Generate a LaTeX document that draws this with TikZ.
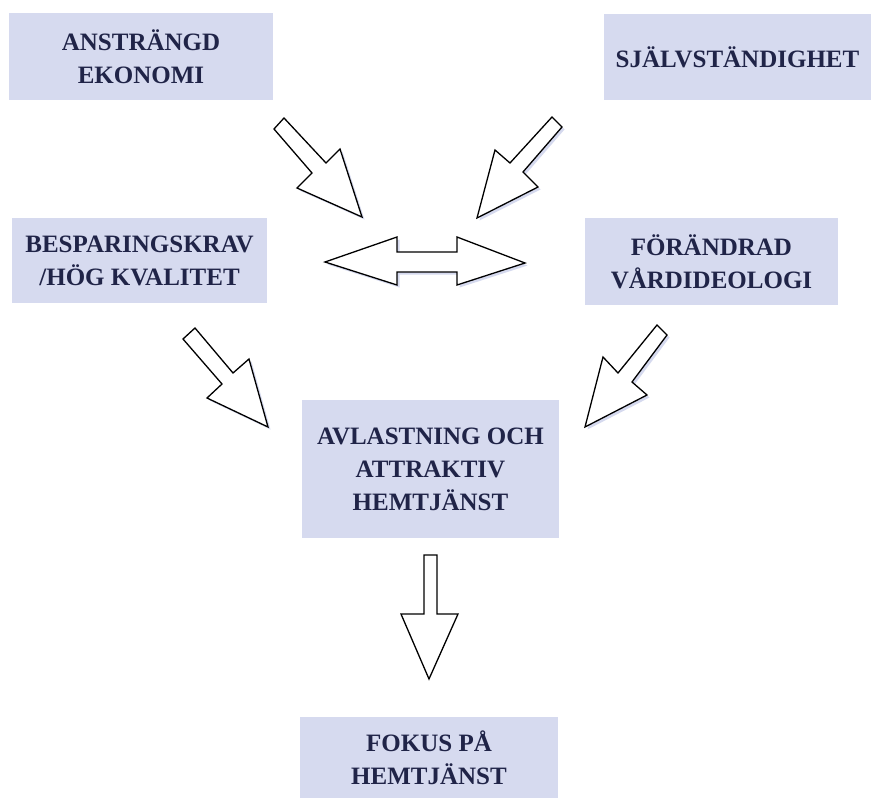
\documentclass[tikz,border=0pt]{standalone}
\usepackage{fontspec}
\setmainfont{Liberation Serif}
\definecolor{boxfill}{RGB}{214,218,239}
\definecolor{txtnavy}{RGB}{32,36,72}
\definecolor{shadowc}{RGB}{196,202,232}
\tikzset{
  labelbox/.style={fill=boxfill, draw=none, inner sep=0pt, align=center,
    text=txtnavy, font=\fontsize{25}{33}\selectfont\bfseries},
  blockarrow/.style={draw=black, fill=white, line width=1.3pt, line join=miter},
  arrowshadow/.style={fill=shadowc, draw=none, opacity=0.7}
}
\begin{document}
\begin{tikzpicture}[x=1pt,y=-1pt]
\useasboundingbox (0,0) rectangle (871,798);
\fill[white] (0,0) rectangle (871,798);
% boxes
\node[labelbox, minimum width=264pt, minimum height=87pt] (e1) at (141,56.5) {ANSTRÄNGD\\EKONOMI};
\node[labelbox, minimum width=267pt, minimum height=86pt] (e2) at (737.5,57) {SJÄLVSTÄNDIGHET};
\node[labelbox, minimum width=255pt, minimum height=85pt] (e3) at (139.5,260.5) {BESPARINGSKRAV\\/HÖG KVALITET};
\node[labelbox, minimum width=253pt, minimum height=87pt] (e4) at (711.5,261.5) {FÖRÄNDRAD\\VÅRDIDEOLOGI};
\node[labelbox, minimum width=257pt, minimum height=138pt] (e5) at (430.5,469) {AVLASTNING OCH\\ATTRAKTIV\\HEMTJÄNST};
\node[labelbox, minimum width=258pt, minimum height=81pt] (e6) at (429,757.5) {FOKUS PÅ\\HEMTJÄNST};
% shadows of block arrows
\begin{scope}[shift={(2.5,2.5)}]
\fill[arrowshadow] (274,129) -- (284,118) -- (326,163) -- (340,149) -- (362,217) -- (297,188) -- (312,173) -- cycle;
\fill[arrowshadow] (552,117) -- (562,127) -- (523,172) -- (538,187) -- (477,218) -- (495,150) -- (510,163) -- cycle;
\fill[arrowshadow] (325,262) -- (397,237) -- (397,252) -- (457,252) -- (457,237) -- (525,263) -- (457,285) -- (457,272) -- (397,272) -- (397,285) -- cycle;
\fill[arrowshadow] (183,339) -- (195,328) -- (233,373) -- (249,359) -- (268,427) -- (207,398) -- (222,384) -- cycle;
\fill[arrowshadow] (657,325) -- (667,335) -- (632,382) -- (647,395) -- (585,427) -- (603,357) -- (618,373) -- cycle;
\end{scope}
% block arrows
\draw[blockarrow] (274,129) -- (284,118) -- (326,163) -- (340,149) -- (362,217) -- (297,188) -- (312,173) -- cycle;
\draw[blockarrow] (552,117) -- (562,127) -- (523,172) -- (538,187) -- (477,218) -- (495,150) -- (510,163) -- cycle;
\draw[blockarrow] (325,262) -- (397,237) -- (397,252) -- (457,252) -- (457,237) -- (525,263) -- (457,285) -- (457,272) -- (397,272) -- (397,285) -- cycle;
\draw[blockarrow] (183,339) -- (195,328) -- (233,373) -- (249,359) -- (268,427) -- (207,398) -- (222,384) -- cycle;
\draw[blockarrow] (657,325) -- (667,335) -- (632,382) -- (647,395) -- (585,427) -- (603,357) -- (618,373) -- cycle;
\draw[blockarrow] (424,555) -- (437,555) -- (437,614) -- (458,614) -- (429,679) -- (401,614) -- (424,614) -- cycle;
\end{tikzpicture}
\end{document}
